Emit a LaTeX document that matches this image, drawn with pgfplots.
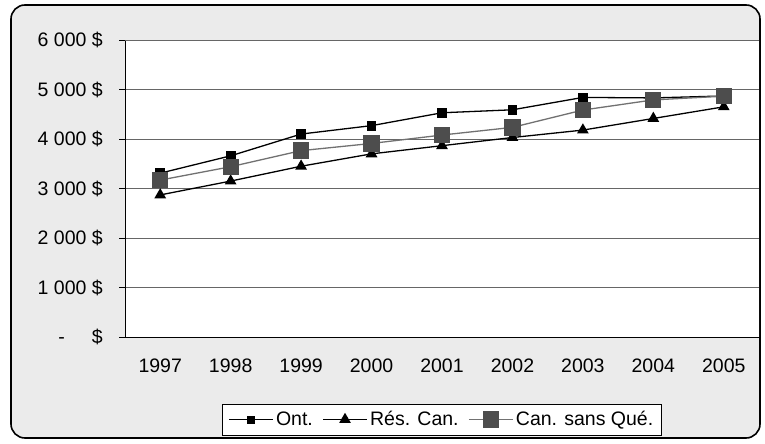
\documentclass[border=0pt]{standalone}
\usepackage{pgfplots}
\usepackage{pgfplotstable}
\pgfplotsset{compat=1.18}
\usepackage{fontspec}
\setmainfont{Liberation Sans}
\definecolor{bggray}{HTML}{EBEBEB}
\definecolor{gridgray}{HTML}{666666}
\definecolor{sqgray}{HTML}{4D4D4D}
\newcommand{\chartfont}{\fontsize{19.5bp}{23bp}\selectfont}

% year index, Ont., Rés. Can., Can. sans Qué.
\pgfplotstableread{
x ont res csq
0 3310 2870 3170
1 3660 3150 3440
2 4100 3450 3765
3 4270 3700 3910
4 4530 3865 4080
5 4590 4030 4235
6 4840 4180 4585
7 4830 4415 4790
8 4870 4650 4865
}\data

\begin{document}
\begin{tikzpicture}
\path (0bp,0bp) rectangle (765bp,444bp);
\filldraw[fill=bggray, draw=black, line width=1.6bp, rounded corners=14bp] (11bp,6bp) rectangle (760bp,439bp);
\begin{axis}[
  at={(125bp,107bp)}, anchor=south west,
  width=634bp, height=297bp, scale only axis,
  /pgf/number format/assume math mode=true,
  axis background/.style={fill=white},
  xmin=-0.5, xmax=8.5, ymin=0, ymax=6000,
  axis x line*=bottom, axis y line*=left,
  axis line style={black, line width=1bp},
  xtick={0,...,8},
  xticklabels={1997,1998,1999,2000,2001,2002,2003,2004,2005},
  minor xtick={-0.5,0.5,...,8.5},
  ytick={0,1000,...,6000},
  yticklabels={{-\hspace{27bp}\$},1 000 \$,2 000 \$,3 000 \$,4 000 \$,5 000 \$,6 000 \$},
  tick align=outside,
  major tick length=6bp, minor tick length=6bp,
  xtick style={draw=none},
  minor tick style={black, line width=1bp},
  ytick style={black, line width=1bp},
  ymajorgrids, major grid style={gridgray, line width=1bp},
  tick label style={font=\chartfont},
  xticklabel style={anchor=north, inner sep=0pt, yshift=-16bp},
  yticklabel style={anchor=east, inner sep=0pt, xshift=-16bp},
  legend columns=3,
  legend style={at={(axis description cs:0.5,-0.278)}, anchor=center,
    draw=black, line width=0.8bp, fill=white, inner xsep=5.5bp, inner ysep=5bp,
    font=\chartfont, nodes={inner sep=2.5bp},
    /tikz/every even column/.append style={column sep=7bp}},
  legend image code/.code={
    \draw[#1] (0bp,0bp) -- (44bp,0bp);
    \draw[#1, only marks] plot coordinates {(22bp,0bp)};},
]
\addplot[black, line width=1.3bp, mark=square*, mark size=4.25bp, mark options={solid},
  legend image post style={mark size=3.3bp}]
  table[x=x, y=ont] {\data};
\addlegendentry{Ont.}
\addplot[black, line width=1.3bp, mark=triangle*, mark size=5.5bp, mark options={solid},
  legend image post style={mark size=5.5bp}]
  table[x=x, y=res] {\data};
\addlegendentry{Rés. Can.}
\addplot[sqgray!80!white, line width=1.3bp, mark=square*, mark size=7.5bp,
  mark options={solid, fill=sqgray, draw=sqgray}]
  table[x=x, y=csq] {\data};
\addlegendentry{Can. sans Qué.}
\draw[gridgray, line width=1bp] (rel axis cs:0,1) -- (rel axis cs:1,1) -- (rel axis cs:1,0);
\end{axis}
\end{tikzpicture}
\end{document}
